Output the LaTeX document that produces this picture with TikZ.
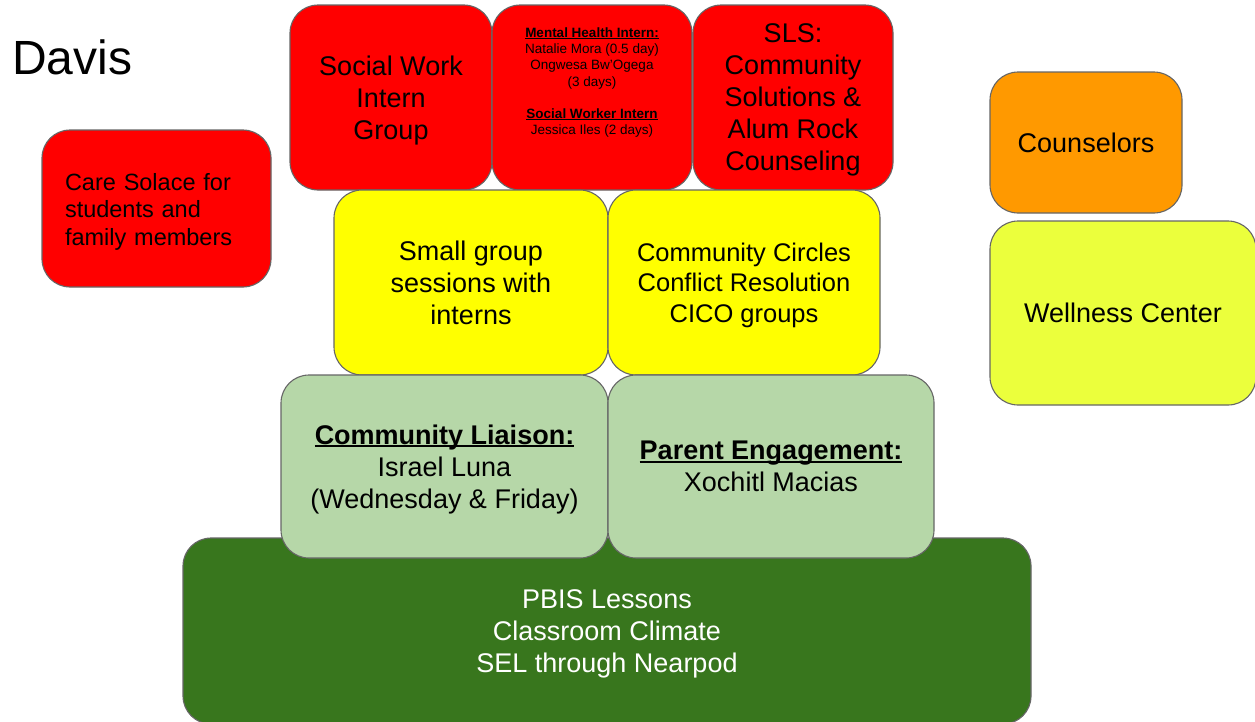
\documentclass[tikz,border=0pt]{standalone}
\usepackage{fontspec}
\setmainfont{Liberation Sans}
\newcommand{\myul}[1]{\setbox0\hbox{#1}\rlap{\rule[-0.11em]{\wd0}{0.075em}}\box0}
\definecolor{cred}{HTML}{FF0000}
\definecolor{cyel}{HTML}{FFFF00}
\definecolor{corange}{HTML}{FF9900}
\definecolor{clgreen}{HTML}{B6D7A8}
\definecolor{cdgreen}{HTML}{38761D}
\definecolor{cwell}{HTML}{EBFF3C}
\definecolor{cborder}{HTML}{666666}
\tikzset{
  box/.style={draw=cborder, line width=1.1pt, rounded corners=28pt, inner sep=0pt, align=center, text=black},
  flat/.style={text depth=0pt},
  big/.style={font=\fontsize{27}{32}\selectfont},
}
\begin{document}
\begin{tikzpicture}[x=1pt,y=-1pt]
\useasboundingbox (0,0) rectangle (1255,721);
\clip (0,0) rectangle (1255,721);
\node[anchor=base west, font=\fontsize{48}{56}\selectfont, inner sep=0pt] (title) at (12,74) {Davis};
% red top row
\node[box, fill=cred, minimum width=229pt, minimum height=157pt, text width=183pt, align=left, font=\fontsize{23.5}{27.5}\selectfont] (care) at (156.5,208.5) {Care Solace for students and family members\par\vspace{-6pt}};
\node[box, flat, big, fill=cred, minimum width=202pt, minimum height=185pt] (sw) at (391,97.5) {Social Work\\Intern\\Group};
\node[box, fill=cred, minimum width=200pt, minimum height=185pt, font=\fontsize{13.5}{16.3}\selectfont] (mh) at (592,97.5) {\textbf{\myul{Mental Health Intern:}}\\Natalie Mora (0.5 day)\\Ongwesa Bw’Ogega\\(3 days)\\ \mbox{}\\\textbf{\myul{Social Worker Intern}}\\Jessica Iles (2 days)\\ \mbox{}\\ \mbox{}};
\node[box, flat, big, fill=cred, minimum width=200pt, minimum height=185pt] (sls) at (793,97.5) {SLS:\\Community\\Solutions \&\\Alum Rock\\Counseling};
% yellow row
\node[box, flat, big, fill=cyel, minimum width=274pt, minimum height=185pt] (small) at (471,282.5) {Small group\\sessions with\\interns};
\node[box, flat, fill=cyel, minimum width=272pt, minimum height=185pt, font=\fontsize{25.5}{30.5}\selectfont] (circ) at (744,282.5) {Community Circles\\Conflict Resolution\\CICO groups};
% right column
\node[box, flat, big, fill=corange, minimum width=192pt, minimum height=141pt] (couns) at (1086,142.5) {Counselors};
\node[box, flat, big, fill=cwell, minimum width=266pt, minimum height=184pt] (well) at (1123,313) {Wellness Center};
% bottom
\node[box, flat, big, fill=cdgreen, text=white, minimum width=848pt, minimum height=186pt] (pbis) at (607,631) {PBIS Lessons\\Classroom Climate\\SEL through Nearpod};
\node[box, flat, big, fill=clgreen, minimum width=327pt, minimum height=183pt] (liaison) at (444.5,466.5) {\textbf{\myul{Community Liaison:}}\\Israel Luna\\(Wednesday \& Friday)};
\node[box, flat, big, fill=clgreen, minimum width=326pt, minimum height=183pt] (parent) at (771,466.5) {\textbf{\myul{Parent Engagement:}}\\Xochitl Macias};
\end{tikzpicture}
\end{document}
